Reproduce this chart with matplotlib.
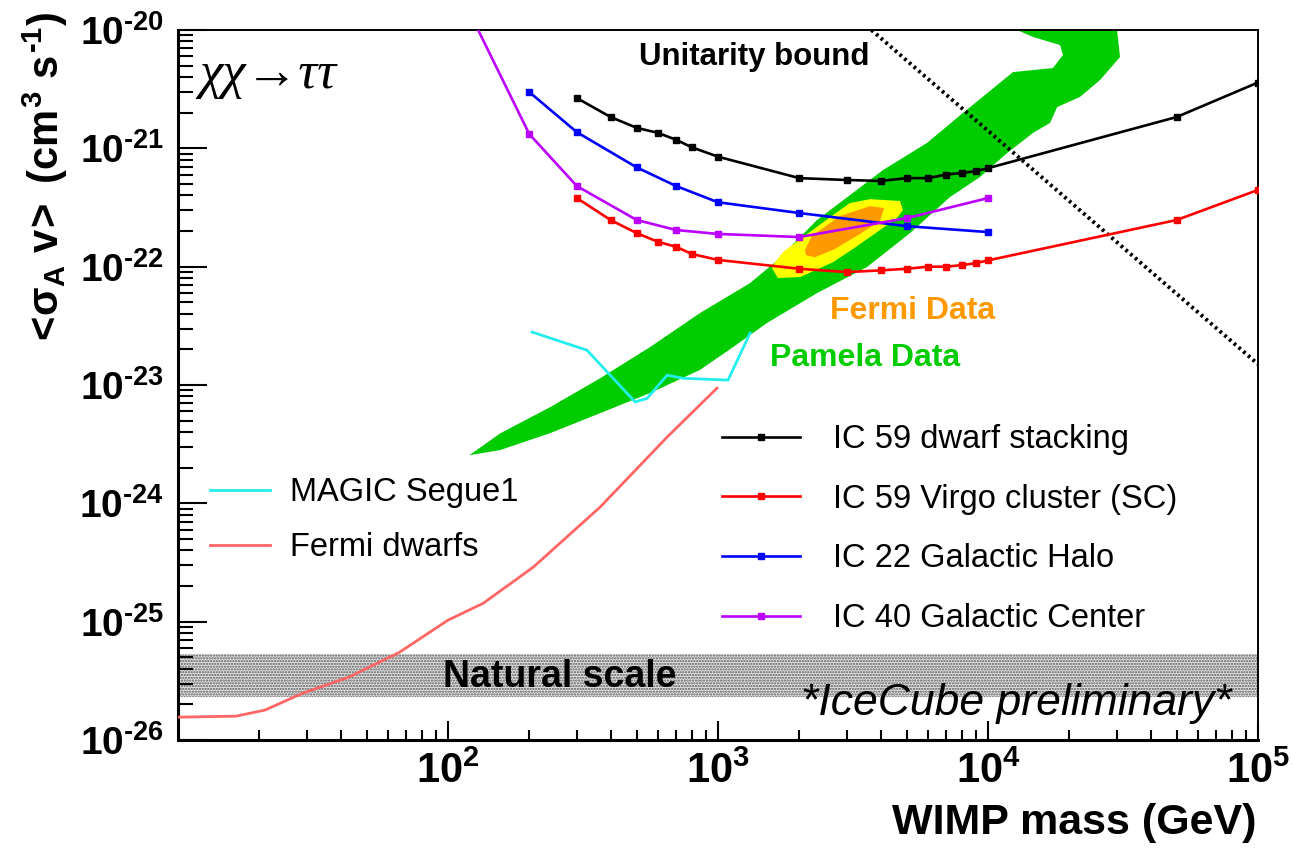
import numpy as np
import matplotlib
matplotlib.use("Agg")
import matplotlib.pyplot as plt
from matplotlib.ticker import FixedLocator, LogLocator, FuncFormatter, NullFormatter
from matplotlib.lines import Line2D

plt.rcParams['font.family'] = ['Liberation Sans', 'DejaVu Sans']
plt.rcParams['mathtext.fontset'] = 'custom'
plt.rcParams['mathtext.rm'] = 'Liberation Sans:bold'
plt.rcParams['mathtext.bf'] = 'Liberation Sans:bold'
plt.rcParams['mathtext.it'] = 'Liberation Sans:bold'
plt.rcParams['mathtext.sf'] = 'Liberation Sans:bold'
plt.rcParams['hatch.linewidth'] = 1.1

# IceCube limits: WIMP mass (GeV) vs <sigma_A v> (cm^3 s^-1)
dwarf_mass = [300, 400, 500, 600, 700, 800, 1000, 2000, 3000, 4000, 5000,
              6000, 7000, 8000, 9000, 10000, 50000, 100000]
dwarf_sv = [2.66e-21, 1.84e-21, 1.49e-21, 1.35e-21, 1.18e-21, 1.02e-21, 8.5e-22,
            5.6e-22, 5.4e-22, 5.3e-22, 5.6e-22, 5.6e-22, 6.0e-22, 6.2e-22,
            6.4e-22, 6.8e-22, 1.84e-21, 3.6e-21]

virgo_mass = dwarf_mass
virgo_sv = [3.8e-22, 2.48e-22, 1.92e-22, 1.62e-22, 1.47e-22, 1.28e-22, 1.14e-22,
            9.6e-23, 9.0e-23, 9.3e-23, 9.6e-23, 1.0e-22, 1.0e-22, 1.03e-22,
            1.07e-22, 1.13e-22, 2.48e-22, 4.45e-22]

halo_mass = [200, 300, 500, 700, 1000, 2000, 5000, 10000]
halo_sv = [2.99e-21, 1.37e-21, 6.9e-22, 4.8e-22, 3.5e-22, 2.84e-22, 2.2e-22, 1.96e-22]

gc_mass = [100, 200, 300, 500, 700, 1000, 2000, 5000, 10000]
gc_sv = [3.3e-20, 1.32e-21, 4.8e-22, 2.48e-22, 2.04e-22, 1.89e-22, 1.78e-22,
         2.57e-22, 3.8e-22]

# other experiments
magic_mass = [205, 327, 493, 546, 648, 742, 1089, 1315]
magic_sv = [2.8e-23, 1.97e-23, 7.2e-24, 7.7e-24, 1.21e-23, 1.14e-23, 1.1e-23, 2.75e-23]

fermi_dw_mass = [10, 16.4, 21, 29, 43, 66, 100, 135, 207, 366, 648, 991]
fermi_dw_sv = [1.56e-26, 1.59e-26, 1.79e-26, 2.49e-26, 3.4e-26, 5.5e-26, 1.03e-25,
               1.43e-25, 2.89e-25, 9.3e-25, 3.63e-24, 9.4e-24]

unitarity_mass = [3700, 100000]
unitarity_sv = [1e-20, 1.5e-23]

natural_lo, natural_hi = 2.3e-26, 5.3e-26

# preferred regions (outline vertices)
pamela_mass = [120, 156, 239, 366, 560, 857, 1315, 1627, 2327, 3085, 4087, 5943,
               8075, 12380, 17400, 18960, 18490, 14690, 12800, 30060, 30830,
               26000, 21920, 18030, 16980, 14690, 11760, 9336, 7228, 5140, 3564,
               2327, 1518, 1137, 857, 560, 366, 239, 156]
pamela_sv = [2.55e-24, 3.9e-24, 6.5e-24, 1.14e-23, 2.09e-23, 4.05e-23, 7.27e-23,
             1.09e-22, 2.48e-22, 4.03e-22, 6.56e-22, 1.11e-21, 1.99e-21, 4.41e-21,
             4.77e-21, 6.15e-21, 7.46e-21, 8.73e-21, 1.0e-20, 1.0e-20, 5.91e-21,
             3.78e-21, 2.72e-21, 2.23e-21, 1.64e-21, 1.35e-21, 9.12e-22, 5.72e-22,
             3.87e-22, 1.92e-22, 9.93e-23, 5.98e-23, 3.34e-23, 2.09e-23, 1.34e-23,
             8.55e-24, 5.78e-24, 3.92e-24, 2.82e-24]

fermi_y_mass = [1626, 1742, 2065, 2667, 3083, 3656, 4721, 4842, 4603, 3981, 3273,
                2667, 2014, 1667, 1585]
fermi_y_sv = [1.09e-22, 1.33e-22, 1.78e-22, 2.73e-22, 3.45e-22, 3.72e-22, 3.59e-22,
              3.01e-22, 2.58e-22, 2.04e-22, 1.49e-22, 1.09e-22, 8.17e-23, 8.02e-23,
              9.73e-23]

fermi_o_mass = [2099, 2228, 2831, 3656, 4121, 3981, 3357, 2710, 2286, 2118]
fermi_o_sv = [1.38e-22, 1.82e-22, 2.68e-22, 3.25e-22, 3.13e-22, 2.43e-22, 1.89e-22,
              1.41e-22, 1.2e-22, 1.25e-22]

GREEN = '#00cc00'
ORANGE = '#ff9900'

fig = plt.figure(figsize=(12.93, 8.51), dpi=100)
ax = fig.add_axes([178 / 1293, 1 - 740 / 851, 1080 / 1293, 710 / 851])
ax.set_xscale('log')
ax.set_yscale('log')
ax.set_xlim(10, 1e5)
ax.set_ylim(1e-26, 1e-20)

# natural scale band
ax.axhspan(natural_lo, natural_hi, facecolor='#e6e6e6', edgecolor='#555555',
           hatch='......', linewidth=0, zorder=1)

# preferred regions
ax.fill(pamela_mass, pamela_sv, color=GREEN, lw=0, zorder=2)
ax.fill(fermi_y_mass, fermi_y_sv, color='#ffff00', lw=0, zorder=3)
ax.fill(fermi_o_mass, fermi_o_sv, color=ORANGE, lw=0, zorder=4)

# other experiments
ax.plot(magic_mass, magic_sv, color='#22eeee', lw=2, zorder=5)
ax.plot(fermi_dw_mass, fermi_dw_sv, color='#ff6666', lw=2, zorder=5)
ax.plot(unitarity_mass, unitarity_sv, color='black', lw=2.8,
        dashes=(0.7, 0.9), zorder=6)

# IceCube
lkw = dict(lw=1.9, marker='s', ms=4.5, zorder=7)
ax.plot(dwarf_mass, dwarf_sv, color='black', **lkw)
ax.plot(virgo_mass, virgo_sv, color='#ff0000', **lkw)
ax.plot(halo_mass, halo_sv, color='#0000ff', **lkw)
ax.plot(gc_mass, gc_sv, color='#bb00ff', **lkw)

# ticks
ax.xaxis.set_major_locator(FixedLocator([1e2, 1e3, 1e4, 1e5]))
ax.xaxis.set_minor_locator(LogLocator(base=10, subs=np.arange(2, 10)))
ax.yaxis.set_major_locator(FixedLocator([10.0 ** e for e in range(-26, -19)]))
ax.yaxis.set_minor_locator(LogLocator(base=10, subs=np.arange(2, 10)))


def pow_label(v, pos):
    e = int(round(np.log10(v)))
    if e < 0:
        return r'$10^{\text{-}%d}$' % -e
    return r'$10^{%d}$' % e


fmt = FuncFormatter(pow_label)
ax.xaxis.set_major_formatter(fmt)
ax.yaxis.set_major_formatter(fmt)
ax.xaxis.set_minor_formatter(NullFormatter())
ax.yaxis.set_minor_formatter(NullFormatter())
ax.tick_params(axis='both', which='both', direction='in', top=False, right=False,
               width=1.5)
ax.tick_params(axis='x', which='major', length=14, pad=8, labelsize=30)
ax.tick_params(axis='x', which='minor', length=7)
ax.tick_params(axis='y', which='major', length=21, pad=10, labelsize=28)
ax.tick_params(axis='y', which='minor', length=11)
for s in ['left', 'bottom']:
    ax.spines[s].set_linewidth(2.2)
for s in ['top', 'right']:
    ax.spines[s].set_linewidth(1.4)

# axis titles
fig.text(1257 / 1293, 1 - 823 / 851, 'WIMP mass (GeV)', ha='right', va='center',
         fontsize=31, fontweight='bold')
fig.text(45 / 1293, 1 - 12 / 851, r'$<\!\sigma_{A}\ v\!>\ (cm^{3}\ s^{\text{-}1})$',
         rotation=90, ha='center', va='top', fontsize=30)

# annotations
ax.text(0.02, 0.937, 'χχ→ττ', transform=ax.transAxes, ha='left', va='center',
        fontsize=38, family=['Liberation Serif', 'DejaVu Serif'], style='italic')
ax.text(0.534, 0.962, 'Unitarity bound', transform=ax.transAxes, ha='center',
        va='center', fontsize=22.5, fontweight='bold')
ax.text(0.604, 0.604, 'Fermi Data', transform=ax.transAxes, ha='left',
        va='center', fontsize=23, fontweight='bold', color=ORANGE)
ax.text(0.548, 0.538, 'Pamela Data', transform=ax.transAxes, ha='left',
        va='center', fontsize=23, fontweight='bold', color=GREEN)
ax.text(0.245, 0.089, 'Natural scale', transform=ax.transAxes, ha='left',
        va='center', fontsize=27, fontweight='bold', zorder=8)
ax.text(0.976, 0.052, '*IceCube preliminary*', transform=ax.transAxes, ha='right',
        va='center', fontsize=32, style='italic', zorder=8)

# legends
h_ic = [Line2D([], [], color=c, lw=1.9, marker='s', ms=4.5)
        for c in ['black', '#ff0000', '#0000ff', '#bb00ff']]
leg1 = ax.legend(h_ic, ['IC 59 dwarf stacking', 'IC 59 Virgo cluster (SC)',
                        'IC 22 Galactic Halo', 'IC 40 Galactic Center'],
                 loc='upper left', bbox_to_anchor=(722 / 1293, 1 - 424 / 851),
                 bbox_transform=fig.transFigure, frameon=False, fontsize=23.5,
                 borderpad=0, borderaxespad=0, handlelength=2.4,
                 handletextpad=1.0, labelspacing=0.88, numpoints=1)
ax.add_artist(leg1)
h_oth = [Line2D([], [], color='#22eeee', lw=2), Line2D([], [], color='#ff6666', lw=2)]
ax.legend(h_oth, ['MAGIC Segue1', 'Fermi dwarfs'], loc='upper left',
          bbox_to_anchor=(210 / 1293, 1 - 477 / 851), bbox_transform=fig.transFigure,
          frameon=False, fontsize=23.5, borderpad=0, borderaxespad=0,
          handlelength=1.85, handletextpad=0.6, labelspacing=0.74)

fig.savefig('out.png', dpi=100)
